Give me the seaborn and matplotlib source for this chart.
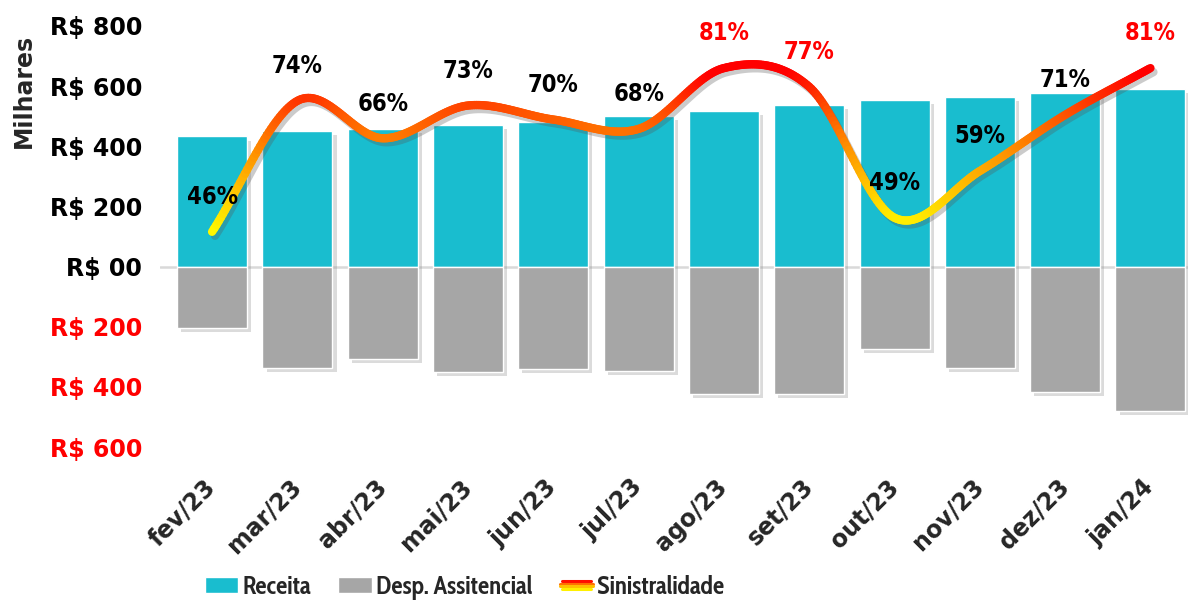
import numpy as np
import matplotlib
matplotlib.use('Agg')
import matplotlib.pyplot as plt
import matplotlib.patheffects as pe
import seaborn as sns
from matplotlib.collections import LineCollection
from matplotlib.colors import LinearSegmentedColormap, Normalize
from matplotlib.patches import Patch
from matplotlib.lines import Line2D
from matplotlib.legend_handler import HandlerBase

# dados (R$ milhares)
meses = ['fev/23', 'mar/23', 'abr/23', 'mai/23', 'jun/23', 'jul/23',
         'ago/23', 'set/23', 'out/23', 'nov/23', 'dez/23', 'jan/24']
receita = [433, 450, 457, 470, 480, 500, 517, 537, 553, 563, 577, 590]
despesa = [203, 337, 307, 350, 340, 347, 423, 423, 273, 337, 417, 480]
sinistralidade = [0.46, 0.74, 0.66, 0.73, 0.70, 0.68, 0.81, 0.77, 0.49, 0.59, 0.71, 0.81]

y_ticks = [-600, -400, -200, 0, 200, 400, 600, 800]
y_labels = ['R$ 600', 'R$ 400', 'R$ 200', 'R$ 00', 'R$ 200', 'R$ 400', 'R$ 600', 'R$ 800']

teal = '#19BDCF'
cinza = '#A6A6A6'
bold = dict(family='DejaVu Sans', weight='bold', size=17)

sns.set_style('white')
plt.rcParams['font.family'] = ['DejaVu Sans']

fig = plt.figure(figsize=(11.88, 6.03), dpi=100)
ax = fig.add_axes([0.1347, 0.2587, 0.8653, 0.6982])

sns.barplot(x=meses, y=receita, color=teal, saturation=1, width=0.82, ax=ax)
sns.barplot(x=meses, y=[-d for d in despesa], color=cinza, saturation=1, width=0.82, ax=ax)
for p in ax.patches:
    p.set_path_effects([pe.withSimplePatchShadow(offset=(3, -3), shadow_rgbFace='#8a8a8a', alpha=0.3)])

ax.axhline(0, color='#D9D9D9', lw=1.8, zorder=0.5)
ax.set_ylim(-600, 800)
ax.set_xlim(-0.61, 11.44)
ax.set_yticks(y_ticks)
ax.set_yticklabels(y_labels, **bold)
for t, v in zip(ax.get_yticklabels(), y_ticks):
    t.set_color('#FF0000' if v < 0 else 'black')
ax.set_xticks(range(len(meses)))
ax.set_xticklabels(meses, rotation=45, ha='right', va='center', rotation_mode='anchor', **bold)
ax.tick_params(axis='y', length=0, pad=13)
ax.tick_params(axis='x', length=0, pad=26)
ax.set_xlabel('')
ax.set_ylabel('')
sns.despine(ax=ax, left=True, bottom=True)
fig.text(0.02, 0.85, 'Milhares', rotation=90, ha='center', va='center', **bold)

# linha suavizada (catmull-rom) no eixo secundario
ax2 = ax.twinx()
ax2.set_ylim(0, 0.9)
ax2.axis('off')

xs = np.arange(len(sinistralidade), dtype=float)
ys = np.array(sinistralidade)
px = np.concatenate([[2 * xs[0] - xs[1]], xs, [2 * xs[-1] - xs[-2]]])
py = np.concatenate([[2 * ys[0] - ys[1]], ys, [2 * ys[-1] - ys[-2]]])
cx, cy = [], []
t = np.linspace(0, 1, 40)
for i in range(1, len(px) - 2):
    for arr, out in ((px, cx), (py, cy)):
        p0, p1, p2, p3 = arr[i - 1], arr[i], arr[i + 1], arr[i + 2]
        seg = 0.5 * (2 * p1 + (-p0 + p2) * t + (2 * p0 - 5 * p1 + 4 * p2 - p3) * t ** 2
                     + (-p0 + 3 * p1 - 3 * p2 + p3) * t ** 3)
        out.extend(seg if i == 1 else seg[1:])
cx, cy = np.array(cx), np.array(cy)

cmap = LinearSegmentedColormap.from_list('sin', ['#FFF700', '#FFC400', '#FF9000', '#FF5000', '#FF0000'])
norm = Normalize(0.47, 0.80)

ax2.plot(cx, cy, color='#555555', alpha=0.3, lw=6, solid_capstyle='round',
         transform=ax2.transData + matplotlib.transforms.ScaledTranslation(3 / 100, -4 / 100, fig.dpi_scale_trans))
pts = np.column_stack([cx, cy]).reshape(-1, 1, 2)
segs = np.concatenate([pts[:-1], pts[1:]], axis=1)
lc = LineCollection(segs, cmap=cmap, norm=norm, linewidths=6, capstyle='round')
lc.set_array((cy[:-1] + cy[1:]) / 2)
ax2.add_collection(lc)

for i, v in enumerate(sinistralidade):
    ax2.annotate(f'{round(v * 100)}%', (i, v), xytext=(0, 25), textcoords='offset points',
                 ha='center', va='center', family='DejaVu Sans', stretch='condensed', weight='bold', size=17,
                 color='#FF0000' if v >= 0.75 else 'black')


class GradHandler(HandlerBase):
    def create_artists(self, legend, orig_handle, xdescent, ydescent, width, height, fontsize, trans):
        cols = ['#FF1000', '#FF7000', '#FFC000', '#FFF000']
        arts = []
        for k, c in enumerate(cols):
            y = height / 2 - ydescent + (1.5 - k) * 2.0
            inset = 1.5 if k in (0, 3) else 0.3
            ln = Line2D([-xdescent + inset, -xdescent + width - inset], [y, y], color=c, lw=2.2,
                        solid_capstyle='round', transform=trans)
            arts.append(ln)
        return arts


dummy = Line2D([], [])
handles = [Patch(facecolor=teal), Patch(facecolor=cinza), dummy]
fig.legend(handles, ['Receita', 'Desp. Assitencial', 'Sinistralidade'], handler_map={dummy: GradHandler()},
           loc='center', bbox_to_anchor=(0.391, 0.026), ncol=3, frameon=False,
           prop=dict(family='Cabin Condensed', weight='bold', size=18),
           handlelength=1.35, handletextpad=0.15, columnspacing=1.1, handleheight=0.62)

fig.savefig('out.png', dpi=100)
